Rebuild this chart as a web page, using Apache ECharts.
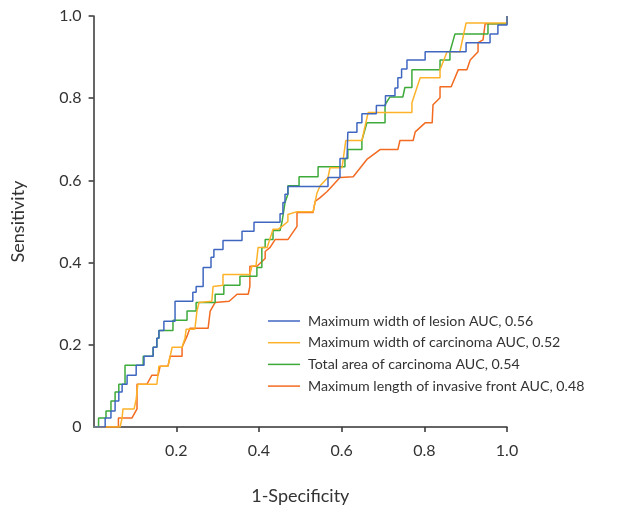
<!DOCTYPE html>
<html>
<head>
<meta charset="utf-8">
<script src="https://cdn.jsdelivr.net/npm/echarts@6/dist/echarts.min.js"></script>
<style>
html,body{margin:0;padding:0;background:#fff;}
#chart{width:623px;height:510px;}
</style>
</head>
<body>
<div id="chart"></div>
<script>
var seriesNames = [
  'Maximum width of lesion AUC, 0.56',
  'Maximum width of carcinoma AUC, 0.52',
  'Total area of carcinoma AUC, 0.54',
  'Maximum length of invasive front AUC, 0.48'
];
var xTicks = [0.2, 0.4, 0.6, 0.8, 1.0];
var yTicks = [0, 0.2, 0.4, 0.6, 0.8, 1.0];

var lesion = [[0,0],[0.028,0],[0.028,0.022],[0.042,0.022],[0.042,0.039],[0.052,0.039],[0.052,0.063],[0.061,0.063],[0.061,0.085],[0.069,0.085],[0.069,0.104],[0.081,0.104],[0.081,0.126],[0.103,0.126],[0.103,0.150],[0.122,0.150],[0.122,0.172],[0.144,0.172],[0.144,0.194],[0.153,0.194],[0.153,0.216],[0.158,0.216],[0.158,0.235],[0.170,0.235],[0.170,0.257],[0.197,0.257],[0.197,0.306],[0.240,0.306],[0.240,0.328],[0.248,0.328],[0.248,0.342],[0.265,0.342],[0.265,0.388],[0.284,0.388],[0.284,0.413],[0.291,0.413],[0.291,0.432],[0.313,0.432],[0.313,0.454],[0.359,0.454],[0.359,0.476],[0.388,0.476],[0.388,0.498],[0.451,0.498],[0.451,0.519],[0.458,0.519],[0.458,0.546],[0.463,0.546],[0.463,0.566],[0.470,0.566],[0.470,0.585],[0.567,0.585],[0.567,0.607],[0.596,0.607],[0.596,0.653],[0.613,0.653],[0.615,0.717],[0.637,0.717],[0.637,0.740],[0.649,0.740],[0.649,0.762],[0.684,0.762],[0.684,0.782],[0.706,0.782],[0.706,0.806],[0.729,0.806],[0.729,0.825],[0.736,0.825],[0.736,0.850],[0.745,0.850],[0.745,0.871],[0.758,0.871],[0.758,0.893],[0.802,0.893],[0.802,0.913],[0.901,0.913],[0.901,0.935],[0.959,0.935],[0.959,0.956],[0.978,0.956],[0.978,0.978],[1,0.978],[1,1]];

var carcinomaWidth = [[0,0],[0.064,0],[0.069,0.022],[0.071,0.044],[0.098,0.044],[0.103,0.068],[0.107,0.104],[0.153,0.104],[0.158,0.148],[0.180,0.148],[0.190,0.194],[0.214,0.194],[0.221,0.216],[0.224,0.238],[0.245,0.238],[0.250,0.282],[0.255,0.303],[0.286,0.306],[0.289,0.342],[0.313,0.345],[0.313,0.371],[0.378,0.371],[0.383,0.391],[0.393,0.393],[0.398,0.437],[0.420,0.437],[0.434,0.481],[0.446,0.481],[0.456,0.488],[0.470,0.500],[0.470,0.517],[0.492,0.524],[0.531,0.524],[0.540,0.568],[0.548,0.587],[0.567,0.607],[0.572,0.631],[0.601,0.631],[0.610,0.697],[0.649,0.697],[0.664,0.765],[0.770,0.765],[0.770,0.789],[0.790,0.850],[0.838,0.850],[0.838,0.869],[0.855,0.913],[0.886,0.913],[0.901,0.983],[1,0.983],[1,1]];

var carcinomaArea = [[0,0],[0.012,0],[0.012,0.022],[0.030,0.022],[0.030,0.039],[0.042,0.039],[0.042,0.063],[0.052,0.063],[0.052,0.085],[0.061,0.085],[0.061,0.104],[0.076,0.104],[0.076,0.150],[0.120,0.150],[0.120,0.172],[0.144,0.172],[0.144,0.194],[0.153,0.194],[0.153,0.216],[0.158,0.216],[0.158,0.235],[0.192,0.235],[0.192,0.260],[0.226,0.260],[0.226,0.282],[0.248,0.282],[0.248,0.303],[0.294,0.303],[0.294,0.323],[0.315,0.323],[0.315,0.345],[0.354,0.345],[0.354,0.367],[0.395,0.367],[0.395,0.388],[0.407,0.388],[0.407,0.437],[0.415,0.437],[0.415,0.456],[0.434,0.456],[0.434,0.478],[0.451,0.478],[0.456,0.500],[0.463,0.546],[0.470,0.566],[0.470,0.587],[0.497,0.587],[0.497,0.609],[0.543,0.609],[0.543,0.633],[0.608,0.633],[0.608,0.653],[0.615,0.653],[0.615,0.675],[0.649,0.675],[0.649,0.697],[0.661,0.740],[0.705,0.740],[0.705,0.784],[0.717,0.803],[0.748,0.803],[0.753,0.826],[0.770,0.826],[0.770,0.869],[0.838,0.869],[0.838,0.893],[0.862,0.893],[0.862,0.913],[0.874,0.956],[0.954,0.956],[0.954,0.981],[1,0.981],[1,1]];

var invasiveFront = [[0,0],[0.060,0],[0.060,0.022],[0.093,0.022],[0.105,0.044],[0.105,0.104],[0.129,0.104],[0.141,0.126],[0.156,0.126],[0.161,0.148],[0.180,0.148],[0.185,0.172],[0.214,0.172],[0.214,0.194],[0.226,0.221],[0.233,0.240],[0.277,0.240],[0.282,0.282],[0.294,0.303],[0.328,0.306],[0.347,0.323],[0.374,0.323],[0.378,0.342],[0.378,0.391],[0.395,0.391],[0.415,0.410],[0.415,0.427],[0.427,0.437],[0.439,0.456],[0.470,0.456],[0.492,0.488],[0.492,0.522],[0.531,0.522],[0.536,0.549],[0.548,0.558],[0.565,0.573],[0.596,0.607],[0.628,0.609],[0.661,0.651],[0.693,0.675],[0.736,0.675],[0.741,0.697],[0.773,0.697],[0.778,0.718],[0.802,0.740],[0.819,0.740],[0.821,0.784],[0.838,0.801],[0.838,0.828],[0.865,0.828],[0.882,0.869],[0.903,0.869],[0.911,0.893],[0.930,0.913],[0.930,0.935],[0.942,0.942],[0.947,0.981],[1,0.981],[1,1]];

var colors = ['#3F67C0', '#FDB22A', '#3DAA3A', '#F26B21'];
var allData = [lesion, carcinomaWidth, carcinomaArea, invasiveFront];

var chart = echarts.init(document.getElementById('chart'), null, {renderer: 'canvas'});
var fontFam = 'Lato, "Noto Sans", sans-serif';
var option = {
  backgroundColor: '#fff',
  animation: false,
  grid: {left: 93.6, right: 116, top: 16, bottom: 82, containLabel: false},
  legend: {
    orient: 'vertical',
    left: 263,
    padding: 5,
    top: 308,
    icon: 'rect',
    itemWidth: 32,
    itemHeight: 1.5,
    itemGap: 5.7,
    data: seriesNames,
    textStyle: {fontSize: 14.2, color: '#333', fontFamily: fontFam, lineHeight: 16, padding: [0,0,0,3]}
  },
  xAxis: {
    type: 'value', min: 0, max: 1, interval: 0.2,
    name: '1-Specificity', nameLocation: 'middle', nameGap: 60,
    nameTextStyle: {fontSize: 18, color: '#333', fontFamily: fontFam},
    axisLine: {show: true, lineStyle: {color: '#333', width: 1.5}},
    axisTick: {show: true, length: 5, lineStyle: {color: '#333', width: 1.5}, customValues: xTicks},
    axisLabel: {fontSize: 16, color: '#333', fontFamily: fontFam, margin: 16, customValues: xTicks,
      formatter: function (v) { return v === 0 ? '0' : v.toFixed(1); }},
    splitLine: {show: false}
  },
  yAxis: {
    type: 'value', min: 0, max: 1, interval: 0.2,
    name: 'Sensitivity', nameLocation: 'middle', nameGap: 66,
    nameTextStyle: {fontSize: 18, color: '#333', fontFamily: fontFam},
    axisLine: {show: true, lineStyle: {color: '#333', width: 1.5}},
    axisTick: {show: true, length: 5, lineStyle: {color: '#333', width: 1.5}, customValues: xTicks},
    axisLabel: {fontSize: 16, color: '#333', fontFamily: fontFam, margin: 12, customValues: yTicks,
      formatter: function (v) { return v === 0 ? '0' : v.toFixed(1); }},
    splitLine: {show: false}
  },
  series: allData.map(function (d, i) {
    return {
      name: seriesNames[i], type: 'line', data: d, symbol: 'none', showSymbol: false,
      lineStyle: {color: colors[i], width: 1.5}, itemStyle: {color: colors[i]},
      z: 4 - i
    };
  })
};
chart.setOption(option);
</script>
</body>
</html>
